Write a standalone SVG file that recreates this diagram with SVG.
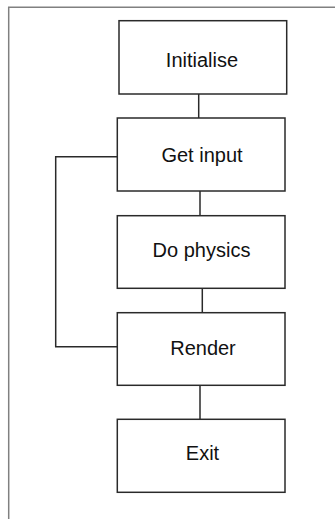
<svg xmlns="http://www.w3.org/2000/svg" width="335" height="519" viewBox="0 0 335 519">
<style>
.box{fill:#fff;stroke:#2a2a2a;stroke-width:1.5}
.lbl{font-family:"Liberation Sans",Arial,sans-serif;font-size:20px;fill:#111;text-anchor:middle}
.conn{fill:none;stroke:#2a2a2a;stroke-width:1.5}
.frame{fill:none;stroke:#808080;stroke-width:1.5}
</style>
<rect width="335" height="519" fill="#fff"/>
<path class="frame" d="M8.7,519 V7.3 H335"/>
<g id="connectors">
<line class="conn" x1="198.7" y1="94" x2="198.7" y2="118"/>
<line class="conn" x1="200" y1="191" x2="200" y2="215.7"/>
<line class="conn" x1="202.3" y1="288.3" x2="202.3" y2="312.7"/>
<line class="conn" x1="200" y1="385.3" x2="200" y2="419.3"/>
<path class="conn" d="M117.3,156.7 H55.7 V346.7 H117.3"/>
</g>
<g id="initialise"><rect class="box" x="119" y="20.7" width="167.7" height="73.3"/><text class="lbl" x="202" y="67">Initialise</text></g>
<g id="get-input"><rect class="box" x="117.3" y="118" width="167.7" height="73"/><text class="lbl" x="202" y="162.3">Get input</text></g>
<g id="do-physics"><rect class="box" x="117.3" y="215.7" width="167.7" height="72.6"/><text class="lbl" x="201.5" y="257">Do physics</text></g>
<g id="render"><rect class="box" x="117.3" y="312.7" width="167.7" height="72.6"/><text class="lbl" x="203" y="355">Render</text></g>
<g id="exit"><rect class="box" x="117.3" y="419.3" width="167.7" height="73"/><text class="lbl" x="202.5" y="460">Exit</text></g>
</svg>
